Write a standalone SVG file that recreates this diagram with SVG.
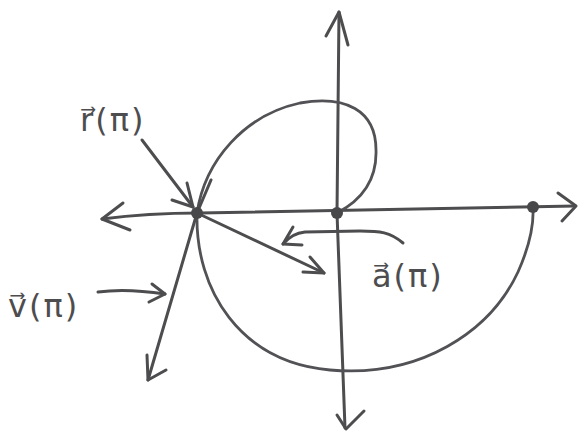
<svg xmlns="http://www.w3.org/2000/svg" width="579" height="433" viewBox="0 0 579 433">
<style>
.s{fill:none;stroke:#4d4d4f;stroke-width:3;stroke-linecap:round;stroke-linejoin:round}
.c{fill:none;stroke:#525256;stroke-width:2.8;stroke-linecap:round}
.d{fill:#48484a}
.t{font-family:"DejaVu Sans",sans-serif;font-size:32px;fill:#4d4d4f;letter-spacing:2px}
</style>
<rect width="579" height="433" fill="#ffffff"/>
<g id="connectors">
<g id="x-axis">
<path class="s" d="M102,219 C140,214 170,213 200,213 L575,206"/>
<path class="s" d="M123,203 L102,219 L130,230"/>
<path class="s" d="M558,193 L576,206 L562,221"/>
</g>
<g id="y-axis">
<path class="s" d="M339,12 L337,213 L345,428"/>
<path class="s" d="M326,36 L339,12 L348,45"/>
<path class="s" d="M337,415 L346,429 L364,411"/>
</g>
<g id="curve">
<path class="c" d="M197,213 C205,160 245,115 300,103 C345,95 376,110 376,150 C377,180 362,200 337,213"/>
<path class="c" d="M197,213 C195,290 240,362 330,370 C420,378 490,332 518,272 C530,245 534,225 533,207"/>
</g>
<g id="velocity-vector">
<path class="s" d="M211,180 L197,213 L148,380"/>
<path class="s" d="M147,355 L148,380 L166,370"/>
</g>
<g id="acceleration-vector">
<path class="s" d="M197,213 L324,273"/>
<path class="s" d="M310,257 L324,273 L303,272"/>
</g>
<g id="r-pointer">
<path class="s" d="M142,140 L193,207"/>
<path class="s" d="M187,183 L193,207 L172,200"/>
</g>
<g id="v-pointer">
<path class="s" d="M98,292 C120,289 145,291 165,294"/>
<path class="s" d="M152,284 L165,294 L149,302"/>
</g>
<g id="a-pointer">
<path class="s" d="M403,243 C390,232 380,231 360,231 L305,232 C295,233 288,238 283,244"/>
<path class="s" d="M293,227 L283,244 L302,245"/>
</g>
</g>
<g id="points">
<circle class="d" cx="197" cy="213" r="6"/>
<circle class="d" cx="337" cy="213" r="6"/>
<circle class="d" cx="533" cy="207" r="6"/>
</g>
<g id="labels">
<text class="t" x="80" y="131">r⃗(π)</text>
<text class="t" x="8" y="317">v⃗(π)</text>
<text class="t" x="372" y="287">a⃗(π)</text>
</g>
</svg>
